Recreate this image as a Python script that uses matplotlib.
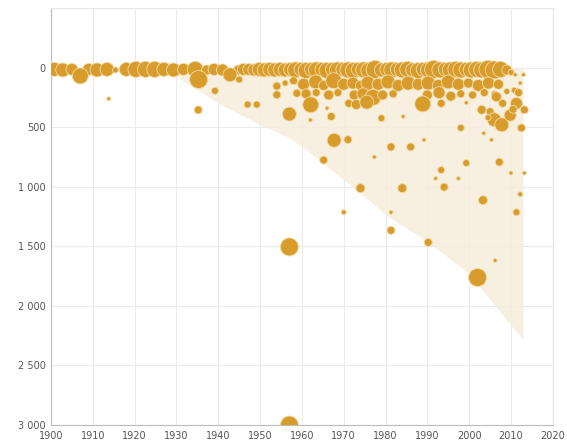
import matplotlib.pyplot as plt
import numpy as np

# 事件：年份、深度、规模（气泡大小）
# 水面附近的一排
surface_years = [1900.8, 1902.8, 1905.0, 1909.0, 1911.0, 1913.4, 1915.4, 1918.0, 1920.3,
                 1922.6, 1924.8, 1927.0, 1929.3, 1931.7, 1934.5, 1937.2, 1939.0, 1941.0,
                 1944.8, 1946.0, 1947.3, 1948.5, 1949.8, 1951.0, 1952.3, 1953.5, 1954.8,
                 1956.0, 1957.3, 1958.5, 1959.8, 1961.0, 1962.3, 1963.5, 1964.8, 1966.0,
                 1967.3, 1968.5, 1969.8, 1971.0, 1972.3, 1973.5, 1974.8, 1976.0, 1977.5,
                 1979.0, 1980.3, 1981.5, 1982.8, 1984.0, 1985.3, 1986.5, 1987.8, 1989.0,
                 1990.3, 1991.5, 1993.0, 1994.3, 1995.5, 1996.8, 1998.0, 1999.3, 2000.5,
                 2001.8, 2003.0, 2004.5, 2006.0, 2007.5, 2009.0, 2010.0, 2011.0]
surface_depths = [15, 20, 15, 15, 20, 15, 20, 15, 15,
                  15, 15, 15, 20, 15, 15, 20, 15, 20,
                  20, 15, 15, 20, 15, 20, 15, 20, 15,
                  20, 15, 20, 15, 25, 15, 20, 15, 25,
                  15, 20, 15, 20, 25, 15, 20, 25, 15,
                  20, 15, 20, 15, 20, 15, 20, 25, 15,
                  20, 15, 20, 15, 20, 15, 20, 15, 20,
                  15, 20, 15, 20, 15, 20, 40, 60]
surface_size = [7, 7, 6, 6, 7, 7, 3, 7, 8,
                8, 8, 7, 7, 6, 8, 5, 6, 6,
                5, 6, 6, 6, 7, 7, 7, 7, 7,
                7, 7, 8, 7, 8, 7, 8, 7, 8,
                7, 8, 7, 8, 8, 7, 8, 8, 9,
                7, 7, 8, 7, 8, 8, 7, 8, 7,
                8, 9, 8, 7, 8, 8, 8, 7, 8,
                8, 8, 9, 9, 8, 5, 3, 2]

# 水面以下的事件
deep_years = [1907.0, 1913.8, 1935.3, 1935.2, 1939.2, 1942.8, 1945.0, 1947.0, 1949.2,
              1954.0, 1954.0, 1956.0, 1958.0, 1957.0, 1957.0, 1957.0,
              1960.4, 1963.3, 1965.2, 1967.6, 1970.0, 1972.2, 1974.0, 1975.8, 1978.2,
              1980.6, 1983.0, 1985.4, 1987.8, 1990.2, 1992.6, 1995.0, 1997.4, 1999.8,
              2002.2, 2004.6, 2007.0,
              1958.8, 1961.0, 1963.4, 1966.4, 1968.6, 1972.5, 1974.6, 1977.0, 1979.3,
              1981.8, 1990.0, 1992.8, 1995.6, 1998.0, 2000.8, 2003.6, 2006.0,
              1962.1, 1966.0, 1967.0, 1971.2, 1973.0, 1975.5, 1979.0, 1984.2, 1988.9,
              1993.3, 1999.3, 2003.0, 2005.0,
              1962.0, 1967.7, 1971.0, 1965.2, 1970.0, 1974.0, 1977.3, 1981.3, 1981.3,
              1981.3, 1984.0, 1986.0, 1989.2, 1990.2, 1992.0, 1993.3, 1994.0, 1997.4,
              1998.0, 1999.3, 2002.0, 2003.3, 2005.3, 2006.2, 2007.2, 2010.0, 2013.2,
              2012.2, 2011.3,
              2006.0, 2007.8, 2009.8, 2011.3, 2012.5, 2013.2, 2008.0, 2010.8, 2011.8,
              2009.0, 2012.2, 2013.0, 2006.5, 2010.5, 2004.5, 2003.5]
deep_depths = [70, 262, 100, 355, 195, 60, 100, 310, 310,
               155, 228, 130, 110, 390, 1505, 3000,
               140, 120, 150, 110, 140, 130, 150, 130, 140,
               120, 150, 130, 140, 130, 150, 120, 140, 130,
               150, 130, 140,
               215, 220, 210, 230, 210, 230, 220, 250, 230,
               220, 230, 210, 240, 220, 230, 210, 220,
               312, 340, 410, 300, 310, 290, 425, 410, 305,
               300, 295, 354, 370,
               440, 610, 605, 776, 1214, 1012, 750, 666, 1214,
               1366, 1012, 666, 607, 1467, 930, 860, 1003, 930,
               506, 801, 1762, 1113, 607, 1619, 793, 885, 885,
               1063, 1214,
               438, 480, 400, 300, 506, 354, 300, 190, 210,
               200, 130, 60, 245, 350, 420, 550]
deep_size = [8, 2, 9, 4, 3.5, 7, 3.5, 3.5, 3.5,
             4, 4, 3, 4, 7, 9, 9,
             6, 7, 5, 8, 6, 6, 5, 7, 6,
             7, 6, 7, 6, 7, 6, 7, 6, 5,
             6, 6, 5,
             4, 5, 4, 5, 4, 5, 6, 8, 5,
             4, 5, 6, 5, 4, 4, 4, 3,
             8, 2, 4, 4, 5, 7, 3.5, 2, 8,
             4, 2, 4.5, 4,
             2, 7, 4, 4, 2.5, 4.5, 2, 4, 2,
             4, 4.5, 4, 2, 4, 2, 3.5, 4, 2,
             3.5, 3.5, 9, 4.5, 2, 2, 4, 2, 2,
             2.5, 3.5,
             7, 7, 6, 6, 4, 4, 4, 3, 4,
             3, 2, 2, 5, 4, 3, 2]

# 阴影区域下边界
shade_years = [1929, 1931, 1940, 1950, 1957, 1964, 1972, 1981, 1990, 2000, 2013]
shade_depths = [0, 100, 300, 480, 590, 770, 1000, 1260, 1460, 1730, 2290]

years = np.array(surface_years + deep_years)
depths = np.array(surface_depths + deep_depths)
size = np.array(surface_size + deep_size, dtype=float)

fig = plt.figure(figsize=(5.67, 4.46), dpi=100)
ax = fig.add_axes([0.090, 0.047, 0.885, 0.935])

# 阴影多边形：顶边在 0，右边在 2013
poly_x = [shade_years[0]] + shade_years + [shade_years[-1]]
poly_y = [0] + shade_depths + [0]
ax.fill(poly_x, poly_y, color='#F6EDDB', alpha=0.85, lw=0, zorder=1)

ax.scatter(years, depths, s=(1.44 * size) ** 2, color='#D79C2C',
           edgecolors='#F4DCA8', linewidths=0.6, zorder=3)

ax.set_xlim(1900, 2020)
ax.set_ylim(3000, -500)
ax.set_xticks(np.arange(1900, 2021, 10))
yt = np.arange(0, 3001, 500)
ax.set_yticks(yt)
ax.set_yticklabels([f'{v:,}'.replace(',', ' ') for v in yt])
ax.set_yticks([-500], minor=True)

ax.grid(True, which='both', color='#EBEBEB', lw=0.8, zorder=0)
ax.set_axisbelow(True)
ax.tick_params(which='both', length=0, labelsize=7, colors='#555555', pad=4)

for side in ['top', 'right']:
    ax.spines[side].set_color('#E6E6E6')
for side in ['left', 'bottom']:
    ax.spines[side].set_color('#BBBBBB')

plt.savefig('out.png', dpi=100)
plt.close()
